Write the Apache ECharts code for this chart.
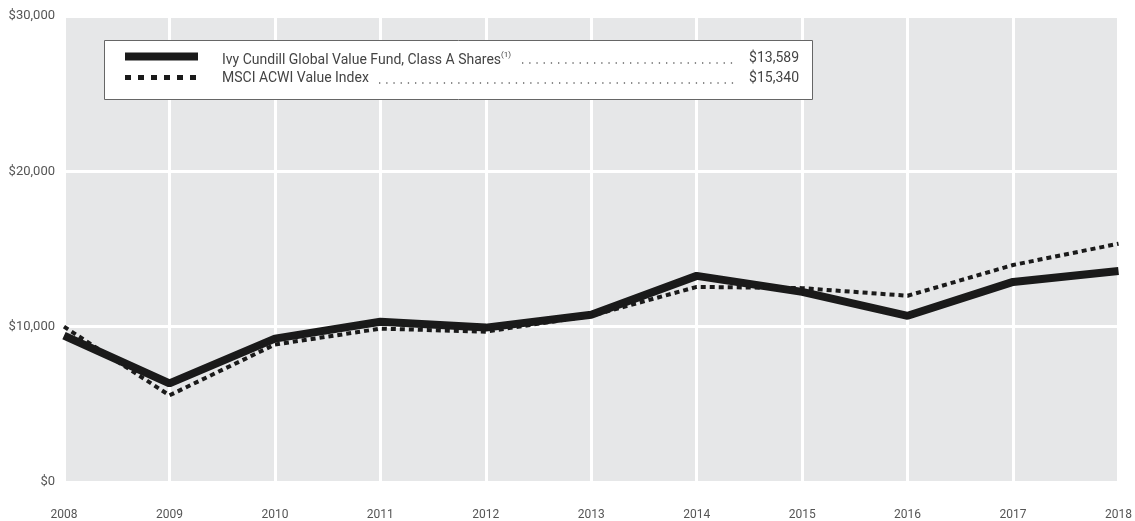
<!DOCTYPE html>
<html><head><meta charset="utf-8">
<script src="https://cdn.jsdelivr.net/npm/echarts@6/dist/echarts.min.js"></script>
<style>html,body{margin:0;padding:0;background:#fff}#c{width:1135px;height:521px}</style>
</head><body><div id="c"></div>
<script>
const years = ['2008','2009','2010','2011','2012','2013','2014','2015','2016','2017','2018'];
const fundName = 'Ivy Cundill Global Value Fund, Class A Shares';
const fundNote = '(1)';
const indexName = 'MSCI ACWI Value Index';
const fundValues = [9425, 6350, 9230, 10320, 9940, 10770, 13270, 12240, 10700, 12880, 13589];
const indexValues = [10000, 5580, 8850, 9870, 9680, 10700, 12560, 12480, 11990, 13970, 15340];
const yTicks = [0, 10000, 20000, 30000];

const FONT = 'Roboto, "Noto Sans", sans-serif';
const fmt = v => '$' + v.toLocaleString('en-US');
const chart = echarts.init(document.getElementById('c'));

const ctx = document.createElement('canvas').getContext('2d');
function textW(t, size) { ctx.font = size + 'px ' + FONT; return ctx.measureText(t).width; }

const TX = 222, VR = 799, DOT_END = 735;
const row1Y = 51, row2Y = 71;
const dot1Start = Math.ceil(TX + textW(fundName, 14) + textW(fundNote, 8) + 10);
const dot2Start = Math.ceil(TX + textW(indexName, 14) + 10);

chart.setOption({
  animation: false,
  grid: {left: 64, right: 12, top: 16, bottom: 37, show: true, backgroundColor: '#e6e7e8', borderWidth: 0},
  xAxis: {
    type: 'category', data: years, boundaryGap: false,
    axisLine: {show: false}, axisTick: {show: false},
    axisLabel: {color: '#555', fontFamily: FONT, fontSize: 12, margin: 27},
    splitLine: {show: true, lineStyle: {color: '#fff', width: 3}}
  },
  yAxis: {
    type: 'value', min: yTicks[0], max: yTicks[yTicks.length-1], interval: 10000,
    axisLine: {show: false}, axisTick: {show: false},
    axisLabel: {color: '#555', fontFamily: FONT, fontSize: 13, margin: 9, formatter: v => fmt(v)},
    splitLine: {show: true, lineStyle: {color: '#fff', width: 3}}
  },
  series: [
    {name: indexName, type: 'line', data: indexValues, symbol: 'none', z: 3,
     lineStyle: {color: '#1a1a1a', width: 4, type: [5, 4]}},
    {name: fundName, type: 'line', data: fundValues, symbol: 'none', z: 2,
     lineStyle: {color: '#1a1a1a', width: 8}}
  ],
  graphic: [
    {type: 'rect', shape: {x: 104.5, y: 40.5, width: 708, height: 59},
     style: {fill: '#fff', stroke: '#666', lineWidth: 1}, z: 10},
    {type: 'line', shape: {x1: 125, y1: 56.5, x2: 198, y2: 56.5},
     style: {stroke: '#1a1a1a', lineWidth: 8}, z: 11},
    {type: 'line', shape: {x1: 125, y1: 77.5, x2: 198, y2: 77.5},
     style: {stroke: '#1a1a1a', lineWidth: 5, lineDash: [6, 7]}, z: 11},
    {type: 'text', x: TX, y: row1Y, z: 11,
     style: {text: '{a|' + fundName + '}{s|' + fundNote + '}', rich: {
       a: {fontFamily: FONT, fontSize: 14, fill: '#444', verticalAlign: 'bottom', lineHeight: 16},
       s: {fontFamily: FONT, fontSize: 8, fill: '#444', verticalAlign: 'top', lineHeight: 16}}}},
    {type: 'text', x: TX, y: row2Y, z: 11,
     style: {text: indexName, fontFamily: FONT, fontSize: 14, fill: '#444'}},
    {type: 'line', shape: {x1: dot1Start, y1: 63, x2: DOT_END, y2: 63},
     style: {stroke: '#666', lineWidth: 1.3, lineDash: [1.3, 5.9]}, z: 11},
    {type: 'line', shape: {x1: dot2Start, y1: 83, x2: DOT_END, y2: 83},
     style: {stroke: '#666', lineWidth: 1.3, lineDash: [1.3, 5.9]}, z: 11},
    {type: 'text', x: VR, y: row1Y, z: 11,
     style: {text: fmt(fundValues[fundValues.length-1]), fontFamily: FONT, fontSize: 14, fill: '#444', align: 'right'}},
    {type: 'text', x: VR, y: row2Y, z: 11,
     style: {text: fmt(indexValues[indexValues.length-1]), fontFamily: FONT, fontSize: 14, fill: '#444', align: 'right'}}
  ]
});
</script></body></html>
